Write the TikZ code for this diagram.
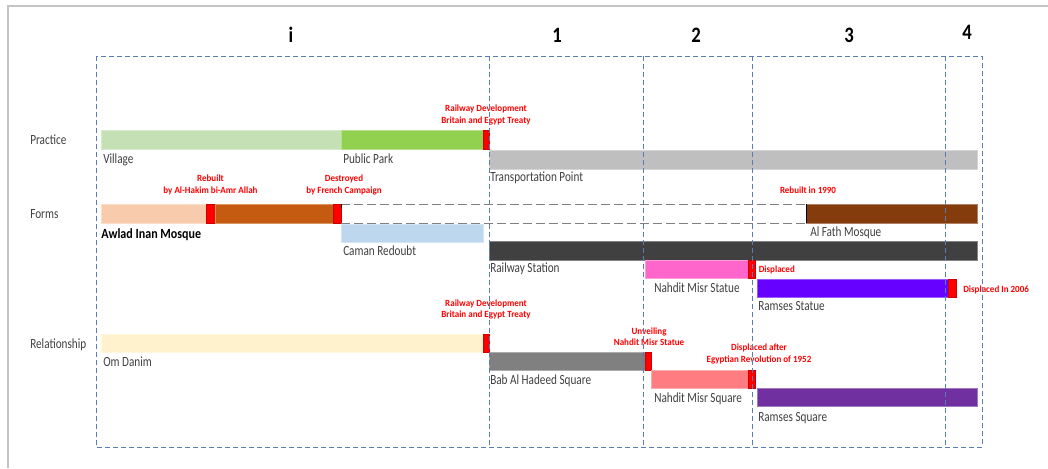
\documentclass[tikz,border=0pt]{standalone}
\usepackage{fontspec}
\setmainfont{Carlito}
\newfontfamily\lblfont{Carlito}[FakeStretch=0.8]
\newfontfamily\boldlblfont{Carlito}[FakeStretch=0.86]
\newfontfamily\notefont{Carlito}[FakeStretch=0.95]
\newfontfamily\hdrfont{Carlito}[FakeStretch=0.85]
\usetikzlibrary{fit}
\definecolor{lblgray}{HTML}{404040}
\definecolor{framegray}{HTML}{C4C4C4}
\definecolor{gridblue}{HTML}{5B7BB5}
\definecolor{cVillage}{HTML}{C5E0B4}
\definecolor{cPark}{HTML}{92D050}
\definecolor{cTransport}{HTML}{BFBFBF}
\definecolor{cAwladA}{HTML}{F8CBAD}
\definecolor{cAwladB}{HTML}{C55A11}
\definecolor{cFath}{HTML}{843C0C}
\definecolor{cCaman}{HTML}{BDD7EE}
\definecolor{cRail}{HTML}{404040}
\definecolor{cNMStatue}{HTML}{FF66CC}
\definecolor{cRamStatue}{HTML}{6600FF}
\definecolor{cOm}{HTML}{FFF2CC}
\definecolor{cBab}{HTML}{808080}
\definecolor{cNMSquare}{HTML}{FF7C80}
\definecolor{cRamSquare}{HTML}{7030A0}
\definecolor{cRed}{HTML}{FF0000}
\begin{document}
\begin{tikzpicture}[x=0.75pt,y=-0.75pt,
  bar/.style={inner sep=0pt, outer sep=0pt, fill=#1, draw=#1!65!white, line width=0.45pt},
  redbar/.style={inner sep=0pt, outer sep=0pt, fill=cRed, draw=cRed!80!black, line width=0.3pt},
  lbl/.style={anchor=base west, inner sep=0pt, text=lblgray, font=\lblfont\fontsize{10.5}{12}\selectfont},
  boldlbl/.style={anchor=base west, inner sep=0pt, text=black, font=\boldlblfont\bfseries\fontsize{10.5}{12}\selectfont},
  note/.style={anchor=base, align=center, inner sep=0pt, text=cRed, font=\notefont\bfseries\fontsize{7.1}{8.3}\selectfont},
  noteW/.style={note, anchor=base west},
  hdr/.style={anchor=base, inner sep=0pt, text=black, font=\hdrfont\bfseries\fontsize{16.5}{18}\selectfont},
  grid/.style={draw=gridblue, line width=0.75pt, dash pattern=on 3.75pt off 2.25pt},
  ghost/.style={draw=gray, line width=0.75pt, dash pattern=on 6.75pt off 3pt}]
\useasboundingbox (0,0) rectangle (1048,468);
\fill[white] (0,0) rectangle (1048,468);
% outer frame
\draw[framegray, line width=1.5pt] (7,6) -- (1048,6);
\draw[framegray, line width=1.5pt] (8,6) -- (8,468);

% headers
\node[hdr] (hi) at (291,42.5) {i};
\node[hdr] (h1) at (557,42.5) {1};
\node[hdr] (h2) at (696,42) {2};
\node[hdr] (h3) at (849,42.5) {3};
\node[hdr] (h4) at (967,39) {4};

% row labels
\node[lbl] (rPractice) at (30,144) {Practice};
\node[lbl] (rForms) at (30,218) {Forms};
\node[lbl] (rRel) at (30,348) {Relationship};

% Practice
\node[bar=cVillage, fit={(101,130)(341,149)}] (village) {};
\node[bar=cPark, fit={(341,130)(483,149)}] (park) {};
\node[redbar, fit={(483,130)(489,149)}] (redP) {};
\node[bar=cTransport, fit={(489,150)(977,169)}] (transport) {};
\node[lbl] (lVillage) at (103,163) {Village};
\node[lbl] (lPark) at (343,163) {Public Park};
\node[lbl] (lTransport) at (490,181.5) {Transportation Point};
\node[note] (nRail1) at (486,123) {Railway Development\\Britain and Egypt Treaty};

% Forms
\node[bar=cAwladA, fit={(101,204)(206,223)}] (awladA) {};
\node[redbar, fit={(206,204)(215,223)}] (redF1) {};
\node[bar=cAwladB, fit={(215,204)(333,223)}] (awladB) {};
\node[redbar, fit={(333,204)(341,223)}] (redF2) {};
\node[bar=cFath, fit={(806,204)(977,223)}] (fath) {};
\draw[ghost] (redF2.north east) -- (fath.north west);
\draw[ghost] (redF2.south east) -- (fath.south west);
\draw[black, line width=0.6pt] (fath.north west) -- (fath.south west);
\draw[black, line width=0.6pt] ([xshift=0.5pt]redF2.north east) -- ([xshift=0.5pt,yshift=4pt]redF2.east);
\node[bar=cCaman, fit={(341,224)(483,242)}] (caman) {};
\node[bar=cRail, fit={(489,241)(977,260)}] (rail) {};
\node[bar=cNMStatue, fit={(645,260)(748,278)}] (nmstatue) {};
\node[redbar, fit={(748,260)(755,278)}] (redF3) {};
\node[bar=cRamStatue, fit={(757,279)(948,297)}] (ramstatue) {};
\node[redbar, fit={(948,279)(956,297)}] (redF4) {};
\node[boldlbl] (lAwlad) at (101,238) {Awlad Inan Mosque};
\node[lbl] (lFath) at (810,236.5) {Al Fath Mosque};
\node[lbl] (lCaman) at (343,255) {Caman Redoubt};
\node[lbl] (lRail) at (490,272.5) {Railway Station};
\node[lbl] (lNMStatue) at (654,292) {Nahdit Misr Statue};
\node[lbl] (lRamStatue) at (758,310.5) {Ramses Statue};
\node[note] (nRebuilt) at (210.5,193) {Rebuilt\\by Al-Hakim bi-Amr Allah};
\node[note] (nDestroyed) at (344,193) {Destroyed\\by French Campaign};
\node[note] (nRebuilt90) at (808,193) {Rebuilt in 1990};
\node[noteW] (nDisplaced) at (758.5,272) {Displaced};
\node[noteW] (nDisp2006) at (963,292.5) {Displaced In 2006};

% Relationship
\node[bar=cOm, fit={(101,334)(483,352)}] (om) {};
\node[redbar, fit={(483,334)(489,352)}] (redR1) {};
\node[bar=cBab, fit={(489,352)(645,370)}] (bab) {};
\node[redbar, fit={(645,352)(651,370)}] (redR2) {};
\node[bar=cNMSquare, fit={(651,370)(748,388)}] (nmsquare) {};
\node[redbar, fit={(748,370)(755,388)}] (redR3) {};
\node[bar=cRamSquare, fit={(757,388)(977,406)}] (ramsquare) {};
\node[lbl] (lOm) at (103,366) {Om Danim};
\node[lbl] (lBab) at (490,384) {Bab Al Hadeed Square};
\node[lbl] (lNMSquare) at (654,402) {Nahdit Misr Square};
\node[lbl] (lRamSquare) at (758,421) {Ramses Square};
\node[note] (nRail2) at (486,317.5) {Railway Development\\Britain and Egypt Treaty};
\node[note] (nUnveil) at (649,345.5) {Unveiling\\Nahdit Misr Statue};
\node[note] (nDispAfter) at (759,362) {Displaced after\\Egyptian Revolution of 1952};

% period grid
\draw[grid] (96,56) rectangle (982,447);
\foreach \gx in {489,643,752,945} \draw[grid] (\gx,56) -- (\gx,447);
\end{tikzpicture}
\end{document}
